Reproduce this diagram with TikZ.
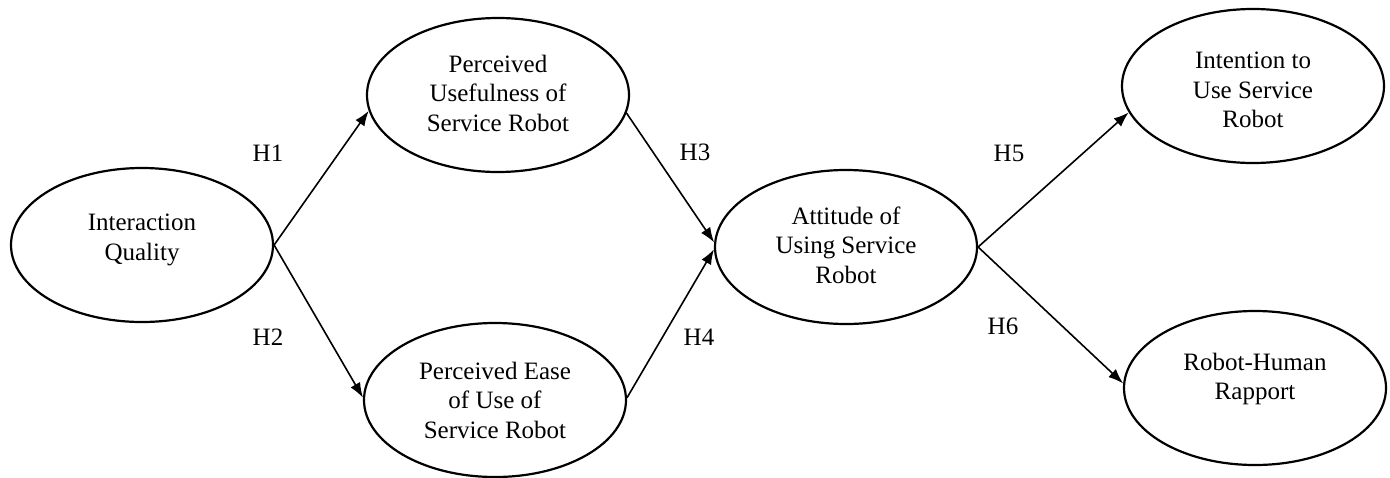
\documentclass[tikz,border=0pt]{standalone}
\usepackage{fontspec}
\setmainfont{Liberation Serif}
\usetikzlibrary{shapes.geometric,arrows.meta}
\begin{document}
\begin{tikzpicture}[x=1pt,y=-1pt,
  oval/.style={draw,ellipse,line width=2.2pt,minimum width=262pt,minimum height=154pt,inner sep=0pt},
  txt/.style={align=center,font=\fontsize{25pt}{29.5pt}\selectfont,inner sep=0pt},
  hyp/.style={font=\fontsize{25pt}{29.5pt}\selectfont,inner sep=0pt},
  link/.style={line width=1.6pt,-{Latex[length=15pt,width=11pt]}}]
\useasboundingbox (0,0) rectangle (1390,477);
% ellipses
\node[oval] (iq) at (142,245) {};
\node[oval] (pu) at (498,95) {};
\node[oval] (pe) at (495,400) {};
\node[oval] (att) at (846,247) {};
\node[oval] (int) at (1253,86) {};
\node[oval] (rh) at (1255,388) {};
% texts
\node[txt] (iqt) at (142,240) {Interaction\\Quality};
\node[txt] (put) at (498,93) {Perceived\\Usefulness of\\Service Robot};
\node[txt] (pet) at (495,400) {Perceived Ease\\of Use of\\Service Robot};
\node[txt] (attt) at (846,245) {Attitude of\\Using Service\\Robot};
\node[txt] (intt) at (1253,90) {Intention to\\Use Service\\Robot};
\node[txt] (rht) at (1255,379) {Robot-Human\\Rapport};
% connectors
\draw[link] (iq.east) -- (pu.187.5);
\draw[link] (iq.east) -- (pe.179);
\draw[link] (pu.352) -- (att.178);
\draw[link] (pe.1) -- (att.181.5);
\draw[link] (att.east) -- (int.192);
\draw[link] (att.east) -- (rh.178.7);
% hypothesis labels
\node[hyp] (h1) at (268,153) {H1};
\node[hyp] (h2) at (268,337) {H2};
\node[hyp] (h3) at (695,152) {H3};
\node[hyp] (h4) at (699,337) {H4};
\node[hyp] (h5) at (1009,153) {H5};
\node[hyp] (h6) at (1003,326) {H6};
\end{tikzpicture}
\end{document}
